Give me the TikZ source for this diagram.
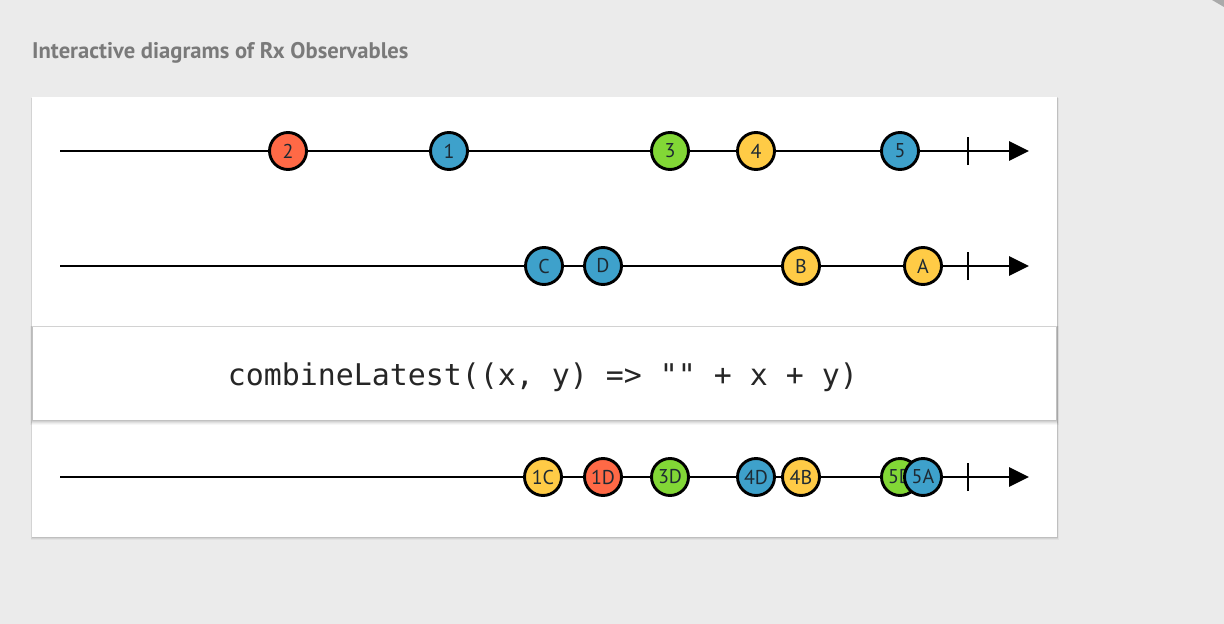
\documentclass[tikz,border=0pt]{standalone}
\usepackage{fontspec}
\setmainfont{PT Sans}
\newfontfamily\codefont{DejaVu Sans Mono}
\usetikzlibrary{arrows.meta}
\definecolor{pagebg}{HTML}{EBEBEB}
\definecolor{titlegray}{HTML}{7A7A7A}
\definecolor{mred}{HTML}{FF6946}
\definecolor{mblue}{HTML}{3EA1CB}
\definecolor{mgreen}{HTML}{82D736}
\definecolor{myellow}{HTML}{FFCB46}
\definecolor{labelink}{HTML}{1E2A33}
\tikzset{
  marble/.style={circle, draw=black, line width=2.9pt, minimum size=37pt, inner sep=0pt,
    fill=#1, text=labelink, font=\fontsize{20}{20}\selectfont},
  timeline/.style={line width=2.8pt, -{Triangle[length=20pt,width=19pt]}},
  endtick/.style={line width=2.8pt},
  card/.style={fill=white},
}
\begin{document}
\begin{tikzpicture}[x=1pt,y=-1pt]
  % page
  \fill[pagebg] (0,0) rectangle (1224,624);
  \useasboundingbox (0,0) rectangle (1224,624);
  % corner fold mark
  \fill[black!50, opacity=0.6] (1212,0) -- (1224,0) -- (1224,7) -- cycle;

  % title
  \node[anchor=base west, inner sep=0pt, text=titlegray,
        font=\fontsize{22.6}{22.6}\selectfont\bfseries] (title) at (32,58)
        {Interactive diagrams of Rx Observables};

  % card with soft shadow
  \foreach \k/\o in {3/0.04,2/0.06,1/0.09}
    \fill[black, opacity=\o] (32-\k*0.5,97+\k*0.3) rectangle (1057+\k*0.5,537+\k);
  \fill[card] (32,97) rectangle (1057,537);

  % operator box with shadow all round, heavier below
  \foreach \k/\o in {5/0.03,4/0.04,3/0.05,2/0.06,1/0.08}
    \fill[black, opacity=\o] (33-\k*0.6,327-\k*0.3) rectangle (1056+\k*0.6,420+\k);
  \fill[white] (33,327) rectangle (1056,420);
  \node[font=\codefont\fontsize{29.9}{29.9}\selectfont, text=black!85] (op) at (543,377)
    {combineLatest((x, y) => "" + x + y)};

  % input stream 1
  \coordinate (a0) at (60,151);
  \coordinate (a1) at (1029,151);
  \draw[timeline] (a0) -- (a1);
  \coordinate (at) at (968,151);
  \draw[endtick] ([yshift=-14pt]at) -- ([yshift=14pt]at);
  \node[marble=mred]    (m2) at (288,151) {2};
  \node[marble=mblue]   (m1) at (449,151) {1};
  \node[marble=mgreen]  (m3) at (670,151) {3};
  \node[marble=myellow] (m4) at (756,151) {4};
  \node[marble=mblue]   (m5) at (900,151) {5};

  % input stream 2
  \coordinate (b0) at (60,266);
  \coordinate (b1) at (1029,266);
  \draw[timeline] (b0) -- (b1);
  \coordinate (bt) at (968,266);
  \draw[endtick] ([yshift=-14pt]bt) -- ([yshift=14pt]bt);
  \node[marble=mblue]   (mC) at (544,266) {C};
  \node[marble=mblue]   (mD) at (603,266) {D};
  \node[marble=myellow] (mB) at (801,266) {B};
  \node[marble=myellow] (mA) at (923,266) {A};

  % output stream
  \coordinate (c0) at (60,477);
  \coordinate (c1) at (1029,477);
  \draw[timeline] (c0) -- (c1);
  \coordinate (ct) at (968,477);
  \draw[endtick] ([yshift=-14pt]ct) -- ([yshift=14pt]ct);
  \node[marble=myellow] (r1C) at (543,477) {1C};
  \node[marble=mred]    (r1D) at (603,477) {1D};
  \node[marble=mgreen]  (r3D) at (670,477) {3D};
  \node[marble=mblue]   (r4D) at (756,477) {4D};
  \node[marble=myellow] (r4B) at (801,477) {4B};
  \node[marble=mgreen]  (r5D) at (900,477) {5D};
  \node[marble=mblue]   (r5A) at (923,477) {5A};
\end{tikzpicture}
\end{document}
